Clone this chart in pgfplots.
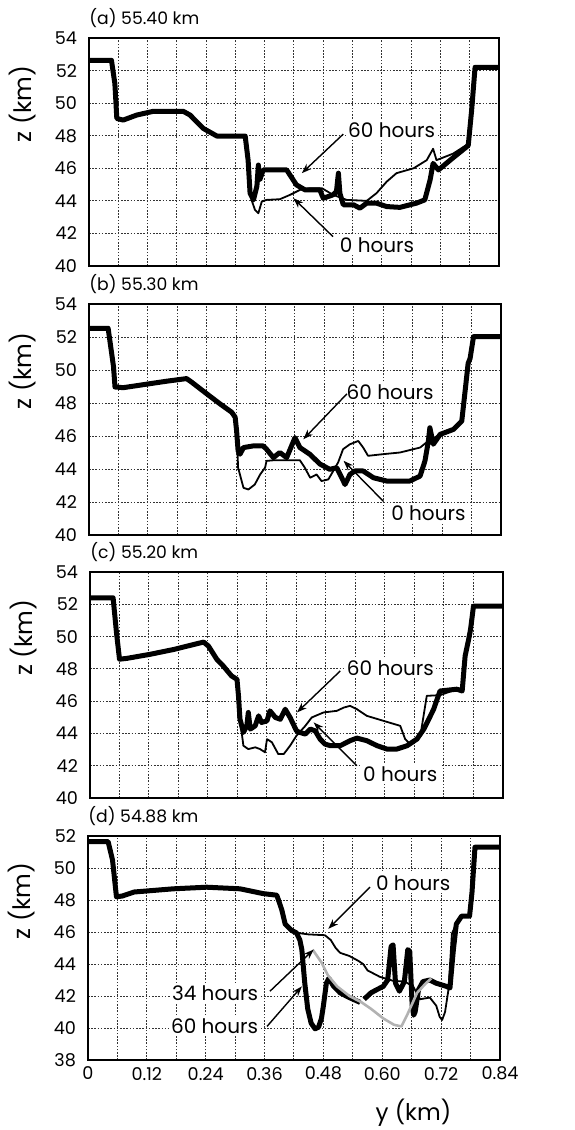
\documentclass[border=0pt]{standalone}
\usepackage{fontspec}
\setmainfont{Poppins}
\usepackage{pgfplots}
\pgfplotsset{compat=1.18}
\usetikzlibrary{arrows.meta}
\tikzset{
  ann/.style={fill=white, inner sep=1.2pt, font=\fontsize{10}{12}\selectfont},
  arr/.style={-{Stealth[length=5pt,width=3.6pt]}, line width=0.7pt},
  ttl/.style={anchor=south west, inner sep=0pt, yshift=5pt, font=\fontsize{8.6}{10}\selectfont},
  zl/.style={xshift=-33pt, rotate=90, font=\fontsize{12}{14}\selectfont},
}
\begin{document}
\begin{tikzpicture}
\useasboundingbox (0,0) rectangle (287pt,-565pt);
\pgfplotsset{
  panel/.style={
    scale only axis, anchor=north west,
    xmin=0, xmax=0.84,
    xtick={0,0.12,0.24,0.36,0.48,0.6,0.72,0.84},
    minor xtick={0.06,0.18,0.30,0.42,0.54,0.66,0.78},
    xticklabels={},
    ytick distance=2,
    grid=both,
    major grid style={dash pattern=on 0.8pt off 0.8pt, black!80, line width=0.5pt},
    minor grid style={dash pattern=on 0.8pt off 0.8pt, black!80, line width=0.5pt},
    major tick length=0pt, minor tick length=0pt,
    axis line style={line width=1pt},
    tick label style={font=\fontsize{8.8}{10}\selectfont},
    /pgf/number format/assume math mode=true,
    yticklabel style={xshift=-2.5pt},
    clip mode=individual,
  },
  h0/.style={black, line width=0.9pt, line join=round},
  h60/.style={black, line width=2.5pt, line join=round},
  h34/.style={black!30, line width=1.3pt, line join=round},
}

% (a)
\begin{axis}[panel, at={(44.5pt,-19pt)}, width=205pt, height=114pt, ymin=40, ymax=54]
\addplot[h0] coordinates {(0.326,46.5) (0.333,44.06) (0.34,43.45) (0.347,43.24) (0.354,43.96) (0.364,44.06) (0.391,44.1) (0.412,44.37) (0.432,44.67) (0.453,44.78) (0.477,44.78) (0.5,44.37) (0.528,44.06) (0.569,44.0) (0.589,44.47) (0.61,45.18) (0.63,45.7) (0.665,46.0) (0.692,46.5) (0.705,47.2) (0.712,46.5) (0.746,46.9) (0.777,47.5)};
\addplot[h60] coordinates {(0,52.63) (0.046,52.63) (0.053,51.2) (0.057,49.06) (0.07,48.96) (0.098,49.27) (0.132,49.5) (0.193,49.5) (0.207,49.27) (0.234,48.45) (0.262,47.98) (0.32,47.98) (0.326,46.5) (0.33,44.47) (0.337,44.06) (0.344,44.9) (0.347,46.2) (0.35,45.3) (0.357,45.9) (0.405,45.9) (0.425,44.98) (0.443,44.67) (0.473,44.67) (0.48,44.16) (0.5,44.37) (0.507,44.57) (0.511,45.7) (0.514,44.47) (0.521,43.76) (0.542,43.76) (0.555,43.55) (0.569,43.86) (0.589,43.86) (0.61,43.65) (0.637,43.6) (0.671,43.86) (0.688,44.06) (0.699,45.3) (0.705,46.3) (0.716,45.9) (0.74,46.5) (0.777,47.4) (0.784,49.57) (0.791,52.2) (0.84,52.2)};
\node[ann] at (axis cs:0.62,48.35) {60 hours};
\draw[arr] (axis cs:0.521,48.1) -- (axis cs:0.436,45.7);
\node[ann] at (axis cs:0.59,41.3) {0 hours};
\draw[arr] (axis cs:0.5,41.8) -- (axis cs:0.419,44.16);
\node[ttl] at (rel axis cs:0,1) {(a) 55.40 km};
\node[zl] at (rel axis cs:0,0.71) {z (km)};
\end{axis}

% (b)
\begin{axis}[panel, at={(44.5pt,-152pt)}, width=206pt, height=115.5pt, ymin=40, ymax=54]
\addplot[h0] coordinates {(0.301,46.3) (0.304,44.08) (0.315,42.86) (0.325,42.76) (0.338,43.06) (0.349,43.67) (0.359,44.08) (0.362,44.49) (0.376,44.53) (0.43,44.53) (0.44,44.08) (0.451,43.47) (0.464,43.67) (0.474,43.27) (0.488,43.37) (0.498,43.88) (0.508,44.4) (0.518,45.2) (0.532,45.5) (0.549,45.7) (0.559,45.3) (0.569,44.8) (0.6,44.9) (0.634,45.0) (0.675,45.3) (0.692,45.7) (0.716,46.1)};
\addplot[h60] coordinates {(0,52.53) (0.039,52.53) (0.05,50.2) (0.053,48.97) (0.07,48.93) (0.124,49.17) (0.158,49.32) (0.199,49.48) (0.209,49.27) (0.24,48.56) (0.267,47.95) (0.291,47.44) (0.298,47.14) (0.301,46.3) (0.304,45.1) (0.308,44.9) (0.315,45.3) (0.335,45.4) (0.355,45.4) (0.362,45.2) (0.376,44.69) (0.389,45.0) (0.403,44.69) (0.42,45.9) (0.43,45.3) (0.45,44.9) (0.471,44.3) (0.491,43.98) (0.505,44.08) (0.512,43.67) (0.522,43.06) (0.532,43.67) (0.542,43.88) (0.559,43.88) (0.58,43.47) (0.607,43.27) (0.654,43.27) (0.675,43.57) (0.685,44.49) (0.692,45.7) (0.695,46.5) (0.702,45.5) (0.716,46.1) (0.743,46.4) (0.76,46.9) (0.767,48.76) (0.773,50.4) (0.777,50.7) (0.784,52.02) (0.84,52.02)};
\node[ann] at (axis cs:0.614,48.66) {60 hours};
\draw[arr] (axis cs:0.526,48.56) -- (axis cs:0.437,45.8);
\node[ann] at (axis cs:0.692,41.33) {0 hours};
\draw[arr] (axis cs:0.6,42.05) -- (axis cs:0.519,44.5);
\node[ttl] at (rel axis cs:0,1) {(b) 55.30 km};
\node[zl] at (rel axis cs:0,0.71) {z (km)};
\end{axis}

% (c)
\begin{axis}[panel, at={(45pt,-286pt)}, width=206.5pt, height=113pt, ymin=40, ymax=54]
\addplot[h0] coordinates {(0.302,46.33) (0.305,44.9) (0.312,43.24) (0.322,43.03) (0.336,43.14) (0.346,43.03) (0.356,42.83) (0.36,43.65) (0.37,43.45) (0.383,42.72) (0.394,42.72) (0.407,43.24) (0.42,43.86) (0.438,44.47) (0.451,44.99) (0.475,45.3) (0.502,45.4) (0.516,45.6) (0.529,45.71) (0.543,45.5) (0.563,45.09) (0.597,44.78) (0.631,44.47) (0.641,43.65) (0.651,43.34) (0.672,43.86) (0.685,46.33) (0.712,46.37) (0.746,46.74)};
\addplot[h60] coordinates {(0,52.4) (0.047,52.4) (0.054,50.2) (0.06,48.6) (0.075,48.65) (0.122,48.9) (0.17,49.2) (0.231,49.66) (0.241,49.41) (0.258,48.59) (0.271,48.18) (0.288,47.56) (0.299,47.35) (0.302,46.33) (0.305,44.9) (0.312,44.06) (0.319,44.47) (0.322,45.3) (0.326,44.27) (0.336,44.47) (0.343,45.09) (0.349,44.68) (0.36,44.78) (0.366,45.4) (0.377,44.99) (0.387,44.88) (0.397,45.5) (0.407,44.99) (0.42,44.16) (0.427,44.06) (0.438,43.96) (0.448,44.27) (0.458,44.16) (0.468,43.65) (0.478,43.34) (0.489,43.24) (0.509,43.24) (0.529,43.55) (0.543,43.71) (0.563,43.55) (0.584,43.24) (0.604,43.03) (0.624,43.03) (0.645,43.24) (0.665,43.65) (0.679,44.27) (0.689,44.88) (0.699,45.5) (0.706,46.12) (0.712,46.63) (0.746,46.74) (0.757,46.63) (0.763,48.8) (0.77,49.8) (0.774,50.44) (0.78,51.88) (0.84,51.88)};
\node[ann] at (axis cs:0.611,48.07) {60 hours};
\draw[arr] (axis cs:0.509,47.87) -- (axis cs:0.421,45.3);
\node[ann] at (axis cs:0.631,41.49) {0 hours};
\draw[arr] (axis cs:0.543,42.0) -- (axis cs:0.455,44.68);
\node[ttl] at (rel axis cs:0,1) {(c) 55.20 km};
\node[zl] at (rel axis cs:0,0.71) {z (km)};
\end{axis}

% (d)
\begin{axis}[panel, at={(44pt,-418pt)}, width=206pt, height=112pt, ymin=38, ymax=52,
  xticklabels={0,0.12,0.24,0.36,0.48,0.60,0.72,0.84}]
\addplot[h0] coordinates {(0.425,45.95) (0.45,45.85) (0.483,45.8) (0.495,45.5) (0.505,45.0) (0.514,44.7) (0.533,44.5) (0.551,44.2) (0.561,44.0) (0.57,43.6) (0.595,43.2) (0.622,42.95) (0.646,42.9) (0.663,42.6) (0.677,41.8) (0.697,41.9) (0.71,41.4) (0.717,40.7) (0.722,40.5) (0.728,41.0) (0.735,42.4) (0.742,45.9) (0.755,46.8) (0.76,47.0) (0.779,47.0) (0.785,49) (0.792,51.3) (0.84,51.3)};
\addplot[h60] coordinates {(0,51.65) (0.041,51.65) (0.05,50.5) (0.058,48.2) (0.07,48.25) (0.094,48.5) (0.174,48.7) (0.242,48.8) (0.31,48.7) (0.357,48.4) (0.385,48.3) (0.395,47.4) (0.402,46.5) (0.415,46.1) (0.425,45.95) (0.432,45.5) (0.436,44.9) (0.442,42.8) (0.448,41.2) (0.455,40.3) (0.463,39.95) (0.47,40.05) (0.476,40.6) (0.48,41.4) (0.486,42.8) (0.491,43.1) (0.501,42.6) (0.514,42.2) (0.533,41.9) (0.555,41.6)};
\addplot[h60] coordinates {(0.563,41.8) (0.577,42.2) (0.589,42.4) (0.602,42.6) (0.611,43.0) (0.618,45.1) (0.622,45.2) (0.627,42.8) (0.635,42.3) (0.645,42.9) (0.652,44.9) (0.656,44.8) (0.661,41.4) (0.664,40.8) (0.667,41.0) (0.674,42.4) (0.683,42.9) (0.697,43.0) (0.71,42.8) (0.731,42.6) (0.738,42.5) (0.745,44.9) (0.751,46.5) (0.762,47.0) (0.778,47.0) (0.783,48.5) (0.789,51.3) (0.84,51.3)};
\addplot[h34] coordinates {(0.458,44.9) (0.476,44.1) (0.489,43.3) (0.508,42.6) (0.533,42.0) (0.558,41.6) (0.577,41.2) (0.602,40.6) (0.624,40.2) (0.639,40.1) (0.652,40.9) (0.671,42.2) (0.689,42.8) (0.70,43.1)};
\node[ann] at (axis cs:0.663,49.04) {0 hours};
\draw[arr] (axis cs:0.575,48.8) -- (axis cs:0.49,46.2);
\node[ann] at (axis cs:0.259,42.2) {34 hours};
\draw[arr] (axis cs:0.371,42.3) -- (axis cs:0.46,44.9);
\node[ann] at (axis cs:0.258,40.1) {60 hours};
\draw[arr] (axis cs:0.365,40.1) -- (axis cs:0.436,42.6);
\node[ttl] at (rel axis cs:0,1) {(d) 54.88 km};
\node[zl] at (rel axis cs:0,0.71) {z (km)};
\node[font=\fontsize{11.5}{13}\selectfont] at (rel axis cs:0.79,0) [yshift=-26.5pt] {y (km)};
\end{axis}
\end{tikzpicture}
\end{document}
